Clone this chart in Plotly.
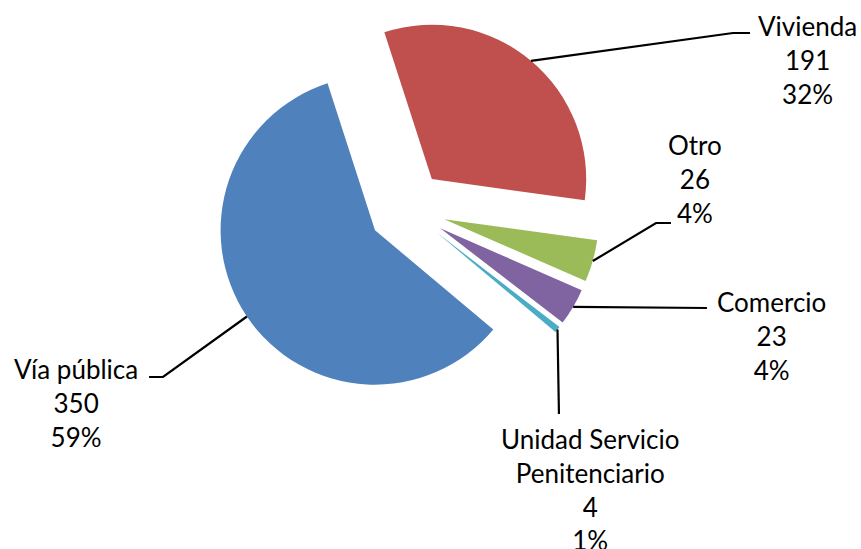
import math
import plotly.graph_objects as go

# ---- data ----
categories = ["Vivienda", "Otro", "Comercio", "Unidad Servicio Penitenciario", "Vía pública"]
values = [191, 26, 23, 4, 350]
label_lines = ["Vivienda", "Otro", "Comercio", "Unidad Servicio<br>Penitenciario", "Vía pública"]
colors = ["#C0504D", "#9BBB59", "#8064A2", "#4BACC6", "#4F81BD"]

# ---- layout constants (pixels) ----
W, H = 861, 549
CX_PX, CY_PX = 407.0, 208.7       # pie centre
SIDE_PX = 386.0                    # pie domain side
PULL = 0.25
ROTATION = -17.9
FONT = dict(family="Lato, Calibri, sans-serif", size=26, color="#000000")

# label block centres and leader-line elbow / end points (pixels)
label_pos = [(807, 60), (695, 179), (771, 336), (590, 489), (76, 403)]
leader_pts = [
    [(733, 33), (750, 33)],
    [(656, 223), (671, 223)],
    [(707, 308)],
    [(559, 414)],
    [(163, 377), (149, 377)],
]

def px2paper(x, y):
    return x / W, 1 - y / H

dom_x = [(CX_PX - SIDE_PX / 2) / W, (CX_PX + SIDE_PX / 2) / W]
dom_y = [1 - (CY_PX + SIDE_PX / 2) / H, 1 - (CY_PX - SIDE_PX / 2) / H]

total = sum(values)
pcts = [round(v / total * 100) for v in values]

fig = go.Figure(go.Pie(
    labels=categories,
    values=values,
    sort=False,
    direction="clockwise",
    rotation=ROTATION,
    pull=[PULL] * len(values),
    marker=dict(colors=colors, line=dict(width=0)),
    textinfo="none",
    hoverinfo="label+value+percent",
    showlegend=False,
    domain=dict(x=dom_x, y=dom_y),
))

# leader-line anchors computed from the data (mid-angle of each slice on the pulled outer arc)
r = SIDE_PX / (2 + 2 * PULL)
shapes = []
annotations = []
cum = 0.0
for i, v in enumerate(values):
    mid = ROTATION + (cum + v / 2) / total * 360
    cum += v
    a = math.radians(mid)
    ax = CX_PX + (1 + PULL) * r * math.sin(a)
    ay = CY_PX - (1 + PULL) * r * math.cos(a)
    pts = [(ax, ay)] + leader_pts[i]
    path = "M " + " L ".join("%.4f,%.4f" % px2paper(x, y) for x, y in pts)
    shapes.append(dict(type="path", path=path, xref="paper", yref="paper",
                       line=dict(color="#000000", width=2.2)))
    lx, ly = px2paper(*label_pos[i])
    annotations.append(dict(
        x=lx, y=ly, xref="paper", yref="paper",
        text=f"{label_lines[i]}<br>{values[i]}<br>{pcts[i]}%",
        showarrow=False, xanchor="center", yanchor="middle", align="center",
        font=FONT,
    ))

fig.update_layout(
    width=W, height=H,
    margin=dict(l=0, r=0, t=0, b=0),
    paper_bgcolor="white",
    plot_bgcolor="white",
    shapes=shapes,
    annotations=annotations,
)

fig.write_html(
    "out.html",
    config={"displayModeBar": False},
    post_script="document.body.style.margin='0';document.body.style.overflow='hidden';",
)
